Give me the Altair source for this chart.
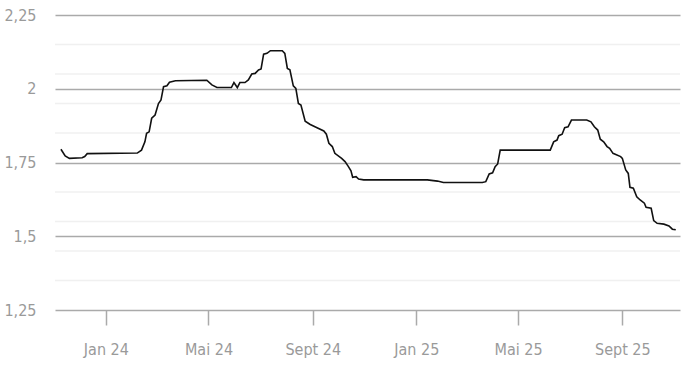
import altair as alt
import pandas as pd

# Day offsets from 2024-01-01 and values
days = [-53, -48, -43, -28, -25, -22, 37, 42, 46, 48, 51, 54, 58, 62, 65, 68, 72, 75, 82,
        119, 125, 131, 148, 151, 155, 158, 164, 168, 172, 176, 180, 183, 186, 190, 194,
        208, 211, 214, 217, 221, 224, 227, 230, 235, 241, 249, 257, 260, 263, 267, 270,
        278, 282, 286, 289, 291, 295, 298, 304, 379, 391, 398, 444, 448, 452, 456, 459,
        462, 465, 524, 528, 532, 534, 538, 541, 545, 549, 567, 572, 576, 580, 583, 587,
        591, 594, 598, 607, 609, 613, 616, 618, 622, 626, 630, 635, 637, 643, 646, 650,
        658, 664, 668, 672]
values = [1.795, 1.772, 1.764, 1.766, 1.770, 1.780, 1.782, 1.792, 1.820, 1.849, 1.854,
          1.900, 1.911, 1.950, 1.962, 2.007, 2.010, 2.022, 2.027,
          2.029, 2.013, 2.004, 2.004, 2.021, 2.004, 2.021, 2.021, 2.030, 2.050, 2.052,
          2.064, 2.067, 2.117, 2.120, 2.129,
          2.129, 2.120, 2.069, 2.064, 2.010, 2.001, 1.950, 1.945, 1.890, 1.879, 1.868,
          1.857, 1.846, 1.815, 1.804, 1.781,
          1.764, 1.753, 1.736, 1.722, 1.700, 1.702, 1.694, 1.691, 1.691, 1.687, 1.682,
          1.682, 1.685, 1.711, 1.715, 1.736,
          1.745, 1.792, 1.792, 1.820, 1.826, 1.841, 1.846, 1.868, 1.871, 1.894, 1.894,
          1.888, 1.871, 1.860, 1.829, 1.820,
          1.804, 1.798, 1.781, 1.770, 1.764, 1.725, 1.713, 1.666, 1.663, 1.634, 1.623,
          1.612, 1.598, 1.595, 1.553, 1.544,
          1.541, 1.535, 1.524, 1.522]

major_ticks = [1.25, 1.5, 1.75, 2.0, 2.25]
minor_grid = [1.35, 1.45, 1.55, 1.65, 1.85, 1.95, 2.05, 2.15]
month_names = ["Jan", "Feb", "März", "Apr", "Mai", "Juni", "Juli", "Aug", "Sept", "Okt", "Nov", "Dez"]
x_ticks = [(2024, 1), (2024, 5), (2024, 9), (2025, 1), (2025, 5), (2025, 9)]

dates = pd.Timestamp("2024-01-01") + pd.to_timedelta(days, unit="D")
df = pd.DataFrame({"date": dates.strftime("%Y-%m-%d"), "value": values})
grid_df = pd.DataFrame({"value": minor_grid})

FONT = "Liberation Sans Narrow, DejaVu Sans Condensed, Roboto, sans-serif"
month_js = "[" + ",".join("'" + m + "'" for m in month_names) + "]"

x_scale = alt.Scale(domain=[alt.DateTime(year=2023, month=11, date=2),
                            alt.DateTime(year=2025, month=11, date=8)])
y_scale = alt.Scale(domain=[1.25, 2.25], nice=False, zero=False)

y_axis = alt.Axis(values=major_ticks, labelExpr="replace(format(datum.value, '~g'), '.', ',')",
                  grid=True, gridColor="#aaaaaa", gridWidth=1.5, domain=False, ticks=False,
                  labelPadding=19, labelFontSize=16, labelColor="#9a9a9a", labelFont=FONT)

minor = alt.Chart(grid_df).mark_rule(color="#f0f0f0", strokeWidth=1.5).encode(
    y=alt.Y("value:Q", scale=y_scale, title=None, axis=y_axis)
)

line = alt.Chart(df).mark_line(color="#111111", strokeWidth=1.6).encode(
    x=alt.X("date:T", scale=x_scale, title=None,
            axis=alt.Axis(values=[alt.DateTime(year=y, month=m, date=1) for y, m in x_ticks],
                          labelExpr=month_js + "[month(datum.value)] + ' ' + timeFormat(datum.value, '%y')",
                          grid=False, domain=False, ticks=True, tickSize=15, tickColor="#aaaaaa",
                          tickWidth=1.5, labelPadding=16, labelFontSize=16, labelColor="#9a9a9a",
                          labelFont=FONT)),
    y=alt.Y("value:Q", scale=y_scale, title=None, axis=y_axis)
)

chart = alt.layer(minor, line).properties(
    width=625, height=295,
    padding={"left": 55, "top": 15, "right": 10, "bottom": 78},
    autosize=alt.AutoSizeParams(type="none"),
).configure_view(stroke=None)

chart.save("out.html", embed_options={"renderer": "svg", "actions": False})
